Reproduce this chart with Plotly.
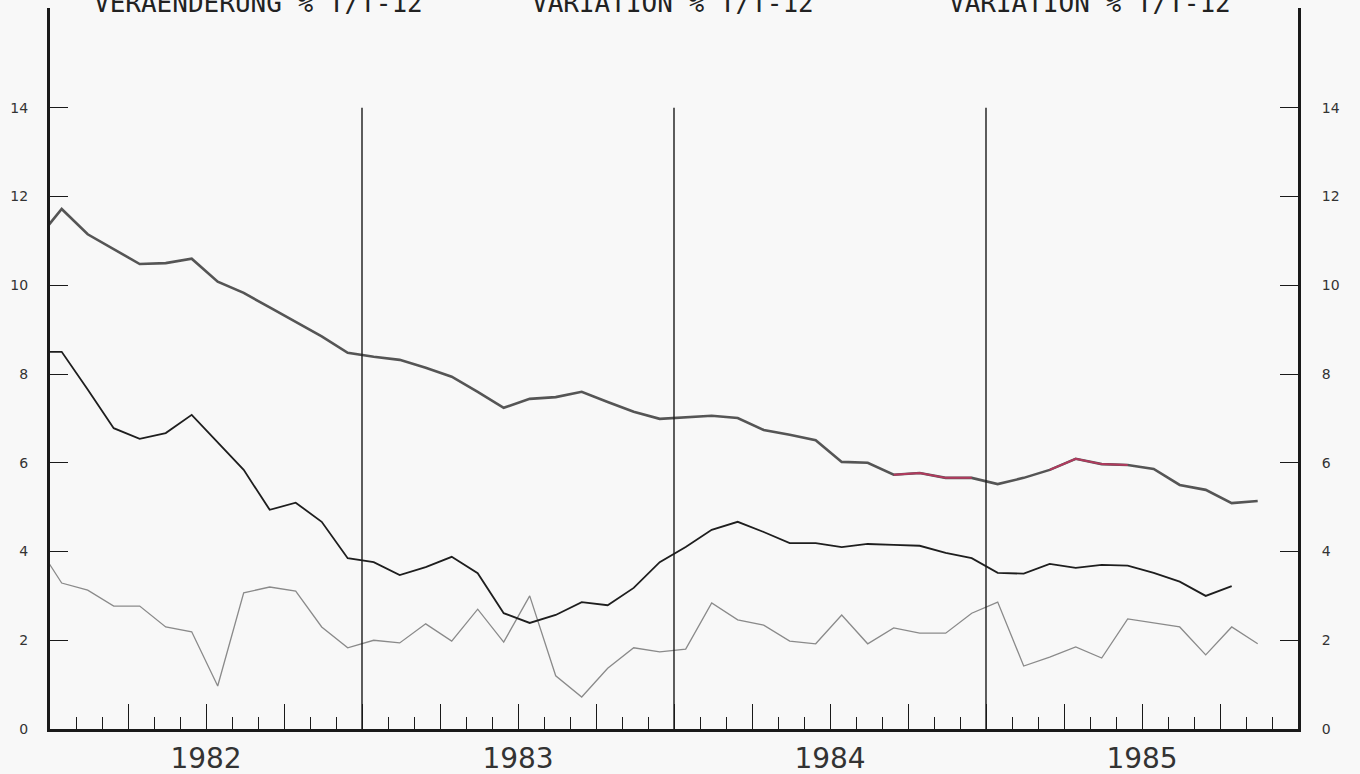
import plotly.graph_objects as go

# Monthly year-on-year change (% T/T-12), Dec 1981 .. Nov 1985
# index -1 = Dec 1981 (clipped at the left axis), 0 = Jan 1982
months = list(range(-1, 47))

series_top = [11.0, 11.72, 11.15, 10.82, 10.48, 10.5, 10.6, 10.08, 9.83, 9.5, 9.18, 8.85, 8.48,
              8.39, 8.32, 8.14, 7.94, 7.6, 7.24, 7.44, 7.48, 7.6, 7.37, 7.15, 6.99,
              7.03, 7.06, 7.01, 6.74, 6.63, 6.51, 6.02, 6.0, 5.73, 5.77, 5.66, 5.66,
              5.52, 5.66, 5.84, 6.09, 5.97, 5.95, 5.86, 5.5, 5.39, 5.09, 5.14]

series_mid = [8.5, 8.5, 7.65, 6.78, 6.54, 6.67, 7.08, 6.45, 5.84, 4.94, 5.1, 4.67, 3.85,
              3.76, 3.47, 3.65, 3.88, 3.51, 2.61, 2.39, 2.57, 2.86, 2.79, 3.18, 3.76,
              4.1, 4.49, 4.67, 4.44, 4.19, 4.19, 4.1, 4.17, 4.15, 4.13, 3.97, 3.85,
              3.52, 3.5, 3.72, 3.63, 3.7, 3.68, 3.52, 3.32, 3.0, 3.22, None]

series_low = [4.2, 3.29, 3.13, 2.77, 2.77, 2.3, 2.19, 0.97, 3.07, 3.2, 3.11, 2.3, 1.83,
              2.0, 1.94, 2.37, 1.98, 2.7, 1.96, 3.0, 1.2, 0.72, 1.37, 1.83, 1.74,
              1.8, 2.84, 2.46, 2.34, 1.98, 1.92, 2.57, 1.92, 2.28, 2.16, 2.16, 2.61,
              2.86, 1.42, 1.62, 1.85, 1.6, 2.48, 2.39, 2.3, 1.67, 2.3, 1.92]

# months of the top series that are drawn highlighted
highlight_ranges = [(32, 35), (38, 41)]

years = ["1982", "1983", "1984", "1985"]
headers = ["VERAENDERUNG % T/T-12", "VARIATION % T/T-12", "VARIATION % T/T-12"]
# header centres, in months along the time axis
header_pos = [8.0, 23.95, 40.0]

y_ticks = list(range(0, 16, 2))

# points sit slightly before mid-month
x = [m + 0.45 for m in months]

fig = go.Figure()
fig.add_trace(go.Scatter(x=x, y=series_low, mode="lines",
                         line=dict(color="#8a8a8a", width=1.3), showlegend=False))
fig.add_trace(go.Scatter(x=x, y=series_mid, mode="lines",
                         line=dict(color="#1e1e1e", width=1.8), showlegend=False))
fig.add_trace(go.Scatter(x=x, y=series_top, mode="lines",
                         line=dict(color="#555555", width=2.6), showlegend=False))
for a, b in highlight_ranges:
    i0, i1 = months.index(a), months.index(b)
    fig.add_trace(go.Scatter(x=x[i0:i1 + 1], y=series_top[i0:i1 + 1], mode="lines",
                             line=dict(color="#b23a5e", width=2.0), showlegend=False))

# invisible trace to activate the right-hand axis
fig.add_trace(go.Scatter(x=[0], y=[0], yaxis="y2", mode="markers",
                         marker=dict(opacity=0), showlegend=False, hoverinfo="skip"))

# year separators
for yr in (12, 24, 36):
    fig.add_shape(type="line", x0=yr, x1=yr, y0=0, y1=14, xref="x", yref="y",
                  line=dict(color="#1a1a1a", width=1.4))

quarter_vals = list(range(3, 48, 3))
quarter_text = []
for v in quarter_vals:
    if (v - 6) % 12 == 0:
        quarter_text.append(years[(v - 6) // 12])
    else:
        quarter_text.append("")

tick_font = dict(family="DejaVu Sans", size=14, color="#333333")

# column headers, running off the top edge of the sheet
for txt, hx in zip(headers, header_pos):
    fig.add_annotation(text=txt, x=hx, xref="x", xanchor="center",
                       y=(729 - 20) / 721, yref="paper", yanchor="bottom",
                       showarrow=False,
                       font=dict(family="DejaVu Sans Mono", size=26, color="#222222"))

fig.update_layout(
    width=1360, height=774,
    margin=dict(l=50, r=62, t=8, b=45, autoexpand=False),
    paper_bgcolor="#f8f8f8", plot_bgcolor="#f8f8f8",
    xaxis=dict(range=[0, 48], showgrid=False, zeroline=False, automargin=False,
               showline=True, linecolor="#1a1a1a", linewidth=3,
               tickmode="array", tickvals=quarter_vals, ticktext=quarter_text,
               ticks="inside", ticklen=25, tickwidth=1.4, tickcolor="#1a1a1a",
               minor=dict(dtick=1, tick0=0, ticks="inside", ticklen=12,
                          tickwidth=1.4, tickcolor="#1a1a1a"),
               tickfont=dict(family="DejaVu Sans", size=28, color="#333333"),
               ticklabelstandoff=2, fixedrange=True),
    yaxis=dict(range=[0, 16.25], showgrid=False, zeroline=False, automargin=False,
               showline=True, linecolor="#1a1a1a", linewidth=3,
               tickvals=y_ticks, ticks="inside", ticklen=18, tickwidth=1.4,
               tickcolor="#1a1a1a", tickfont=tick_font, ticklabelstandoff=16),
    yaxis2=dict(range=[0, 16.25], overlaying="y", side="right", showgrid=False,
                zeroline=False, showline=True, linecolor="#1a1a1a", linewidth=3,
                automargin=False,
                tickvals=y_ticks, ticks="inside", ticklen=18, tickwidth=1.4,
                tickcolor="#1a1a1a", tickfont=tick_font, ticklabelstandoff=18),
)

fig.write_html("out.html")
